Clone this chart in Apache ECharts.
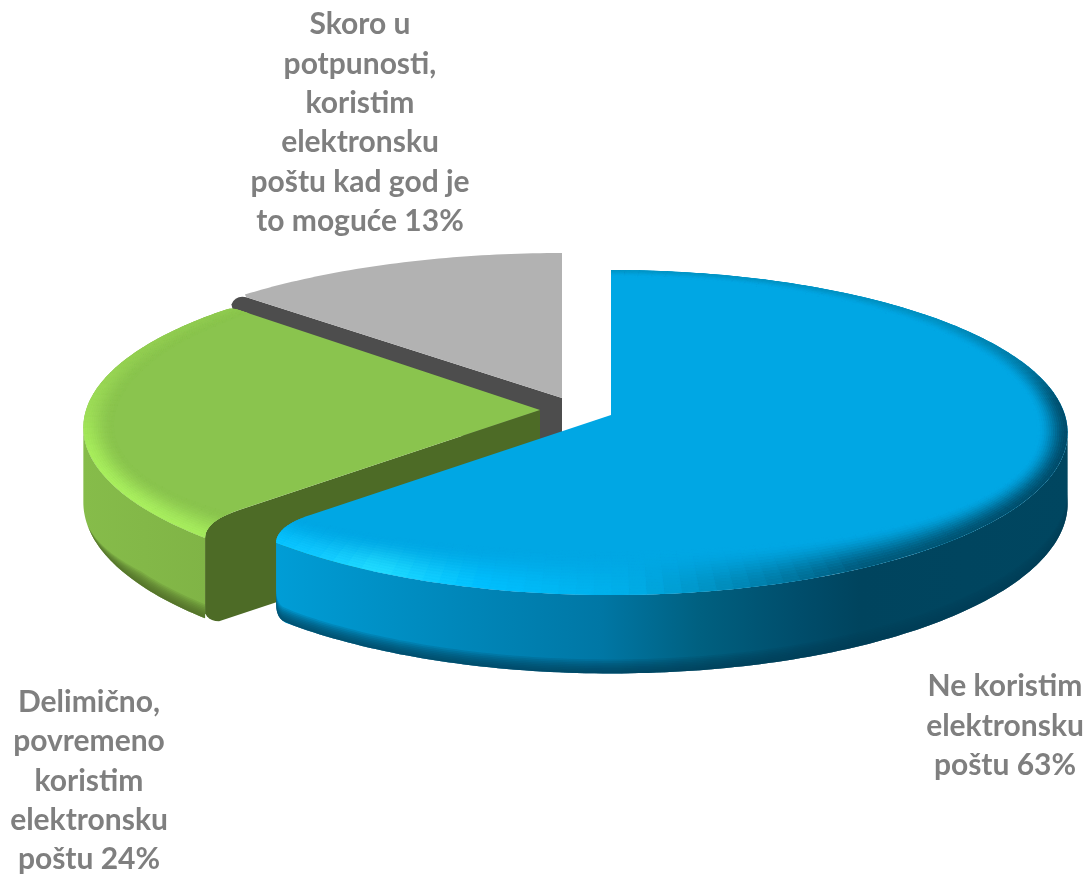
<!DOCTYPE html>
<html><head><meta charset="utf-8">
<style>html,body{margin:0;padding:0;background:#fff}#c{width:1089px;height:875px}</style>
<script src="https://cdn.jsdelivr.net/npm/echarts@6/dist/echarts.min.js"></script>
</head><body><div id="c"></div>
<script>
const categories = [
  "Ne koristim\nelektronsku\npoštu",
  "Delimično,\npovremeno\nkoristim\nelektronsku\npoštu",
  "Skoro u\npotpunosti,\nkoristim\nelektronsku\npoštu kad god je\nto moguće"
];
const values = [63, 24, 13];

// ---- drawing style and layout, separate from the data ----
const R = 454, RY = 160.6, K = 0.1077, CORNER_TRIM = 4, TEXT = '#7f7f7f';
const depths = [70, 74, 70];
const apexes = [[611, 415], [540, 410], [562, 398]];
const labelPos = [[1005, 726], [89, 781], [360, 123]];
const baseCol = ['#00a7e4', '#8ac44e', '#b2b2b2'];
const sideDark = ['#004660', '#4d6b26', '#4d4d4d'];
const radiusScale = [1, 1, 1.04];
const rimStops = [
  [[0,'#0096c6'],[50,'#0090c0'],[70,'#007aa5'],[85,'#00506e'],[100,'#004a68'],[130,'#00506e'],[150,'#005a7c'],[168,'#0090c0'],[178,'#00aee8'],[195,'#00c0ff'],[208,'#22dcff'],[217,'#10c8ff'],[228,'#00c0ff']],
  [[220,'#a4ea5c'],[235,'#aaf060'],[255,'#a8ee5c'],[270,'#9ede58'],[290,'#94d052'],[315,'#8fca50']],
  null
];
const sideStops = [
  [[277,'#009dd6'],[450,'#0088bb'],[600,'#0077a5'],[700,'#006080'],[800,'#004d6b'],[860,'#00445e'],[1070,'#004660']],
  [[82,'#86bc4a'],[207,'#80b446']],
  null
];
const bottomShade = ['0,64,88', '74,100,36', null];
// grey first, blue last, so nearer slices cover farther ones
const drawOrder = [2, 1, 0];

const hex = c => [1,3,5].map(i => parseInt(c.substr(i,2),16));
const mix = (a,b,t) => { const x=hex(a), y=hex(b); return 'rgb('+x.map((v,i)=>Math.round(v+(y[i]-v)*t)).join(',')+')'; };
const rad = d => d*Math.PI/180;
function stopColor(stops, a){
  if (a<=stops[0][0]) return stops[0][1];
  for (let i=1;i<stops.length;i++) if (a<=stops[i][0]) {
    const t=(a-stops[i-1][0])/(stops[i][0]-stops[i-1][0]);
    const c=mix(stops[i-1][1],stops[i][1],t).match(/\d+/g).map(Number);
    return '#'+c.map(v=>v.toString(16).padStart(2,'0')).join('');
  }
  return stops[stops.length-1][1];
}
function proj(apex, deg, scale, su, sv){
  su = su==null?1:su; sv = sv==null?1:sv;
  const u=Math.sin(rad(deg))*su, v0=-Math.cos(rad(deg)), v=v0*sv, w=1/(1-K*v);
  return [apex[0]+R*scale*u*w, apex[1]+RY*v*w, w];
}
function quad(p0,c,p1,n){ const o=[]; for(let i=1;i<=n;i++){const t=i/n,m=1-t; o.push([m*m*p0[0]+2*m*t*c[0]+t*t*p1[0], m*m*p0[1]+2*m*t*c[1]+t*t*p1[1]]);} return o; }
function arc(apex,a0,a1,scale,step){ const o=[],n=Math.max(2,Math.ceil(Math.abs(a1-a0)/(step||1))); for(let i=0;i<=n;i++) o.push(proj(apex,a0+(a1-a0)*i/n,scale)); return o; }
const xy = p => [p[0],p[1]];

function renderItem(params, api){
  const idx = api.value(1);
  const total = values.reduce((s,v)=>s+v,0);
  let before = 0; for (let i=0;i<idx;i++) before += values[i];
  const a0 = before/total*360, a1 = (before+api.value(0))/total*360;
  const apex = apexes[idx], sc = radiusScale[idx], children = [];
  const lineAt = (S,x) => [x, apex[1]+(S[1]-apex[1])*(x-apex[0])/(S[0]-apex[0])];
  const drop = p => [p[0], p[1]+depths[idx]*p[2]];
  let top, sidePts=null, cutPts=null, cutFill=sideDark[idx], bandPts=null, taper=false;

  if (idx===0){
    const aE=a1-CORNER_TRIM, S=proj(apex,a1,sc), E=proj(apex,aE,sc);
    const curve=quad(xy(E),lineAt(S,E[0]),lineAt(S,E[0]+35),12);
    top=[apex].concat(arc(apex,a0,aE,sc).map(xy),curve);
    const from=96, topRim=arc(apex,from,aE,sc), bot=topRim.map(drop);
    const be=bot[bot.length-1], bi=drop(proj(apex,aE-1.6,sc));
    const kept=bot.slice(0,-3).reverse();
    sidePts=topRim.map(xy).concat([[E[0],be[1]-15]],quad([E[0],be[1]-15],[E[0],be[1]-1],bi,6),kept);
    bandPts=bot.slice(0,-3).concat(quad(bi,[E[0],be[1]-1],[E[0],be[1]-15],6));
  } else if (idx===1){
    const aE=a0-CORNER_TRIM, S=proj(apex,a0,sc), E=proj(apex,aE,sc), S2=proj(apex,a1,sc);
    const L=lineAt(S,E[0]+34), curve=quad(L,lineAt(S,E[0]),xy(E),12);
    const back=quad(xy(proj(apex,a1-1,sc)),lineAt(S2,S2[0]),lineAt(S2,S2[0]+7),4);
    top=[apex,L].concat(curve,arc(apex,aE,a1-1,sc).map(xy),back);
    const topRim=arc(apex,aE,264,sc), bot=topRim.map(drop);
    const be=bot[0];
    sidePts=topRim.map(xy).concat(bot.slice().reverse());
    bandPts=bot.slice(0,Math.ceil(bot.length*0.8)); taper=true;
    const tip=[E[0]+14,be[1]+3], tipDepth=tip[1]-lineAt(S,tip[0])[1];
    cutPts=[apex,L].concat(curve,[[E[0],be[1]-5]],quad([E[0],be[1]-5],[E[0]+4,be[1]+3],tip,5),[[apex[0],apex[1]+tipDepth]]);
  } else {
    const S=proj(apex,a0,sc);
    const line=lineAt(S,S[0]+5);
    top=[apex,line].concat(arc(apex,a0+0.6,a1,sc).map(xy));
    cutPts=[apex,line].concat(quad(line,[S[0]-6,S[1]-1],[S[0]-10,S[1]+9],5),[[S[0]+5,S[1]+70],[apex[0],apex[1]+70]]);
  }

  if (cutPts) children.push({type:'polygon',shape:{points:cutPts},style:{fill:cutFill}});
  if (sidePts){
    const st=sideStops[idx], x0=st[0][0], x1=st[st.length-1][0];
    children.push({type:'polygon',shape:{points:sidePts},style:{fill:{type:'linear',global:true,x:x0,y:0,x2:x1,y2:0,
      colorStops:st.map(s=>({offset:(s[0]-x0)/(x1-x0),color:s[1]}))}}});
    // soft darkening toward the lower edge of the rim
    const bands=8, thick=14, n=bandPts.length;
    for(let b=0;b<bands;b++){
      const h=thick*(1-b/bands);
      const outer=bandPts.map(p=>[p[0],p[1]]);
      const inner=bandPts.map((p,i)=>[p[0],p[1]-h*(taper?Math.min(1,(n-1-i)/(n*0.6)):1)]).reverse();
      children.push({type:'polygon',shape:{points:outer.concat(inner)},style:{fill:'rgba('+bottomShade[idx]+',0.16)'}});
    }
  }
  children.push({type:'polygon',shape:{points:top},style:{fill:baseCol[idx]}});

  if (rimStops[idx]){
    const ringEls=[], steps=14, da=2, stops=rimStops[idx];
    const aS=idx===0?a0:a0-CORNER_TRIM-1, aT=a1;
    for(let a=aS;a<aT;a+=da){
      const a2=Math.min(a+da,aT), mid=(a+a2)/2, col=stopColor(stops,mid);
      for(let s=0;s<steps;s++){
        const i0=s/steps,i1=(s+1)/steps, t=(s+.5)/steps;
        const inset=i=>{const v=-Math.cos(rad(mid)); return [1-0.065*i,1-(v>0?0.05+0.17*v:0.05)*i];};
        const A=inset(i0),B=inset(i1);
        const fc=mix(col,baseCol[idx],t*t*(3-2*t));
        ringEls.push({type:'polygon',shape:{points:[
          xy(proj(apex,a,sc,A[0],A[1])),xy(proj(apex,a2,sc,A[0],A[1])),
          xy(proj(apex,a2,sc,B[0],B[1])),xy(proj(apex,a,sc,B[0],B[1]))]},
          style:{fill:fc,stroke:fc,lineWidth:0.7}});
      }
    }
    children.push({type:'group',clipPath:{type:'polygon',shape:{points:top}},children:ringEls});
  }
  children.push({type:'text',x:labelPos[idx][0],y:labelPos[idx][1],style:{
    text:categories[idx]+' '+api.value(0)+'%',fill:TEXT,font:'bold 30px Lato',align:'center',verticalAlign:'middle',lineHeight:39.4}});
  return {type:'group',children};
}

const chart = echarts.init(document.getElementById('c'), null, {renderer:'canvas'});
chart.setOption({
  animation:false, backgroundColor:'#fff',
  series:[{type:'custom',coordinateSystem:'none',silent:true,clip:false,renderItem:(p,api)=>renderItem(p,api),
    data:drawOrder.map(i=>[values[i],i])}]
});
</script></body></html>
